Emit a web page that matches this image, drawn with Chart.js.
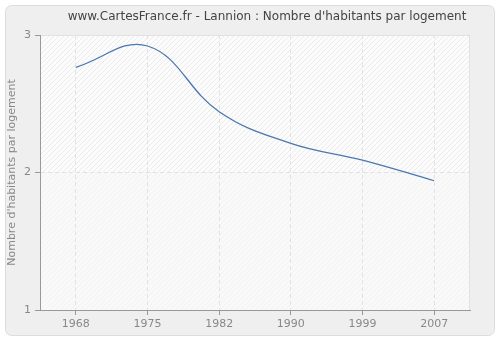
<!DOCTYPE html>
<html>
<head>
<meta charset="utf-8">
<script src="https://cdn.jsdelivr.net/npm/chart.js@4.4.1/dist/chart.umd.min.js"></script>
<style>
  html, body { margin: 0; padding: 0; background: #ffffff; }
  #wrap { width: 500px; height: 340px; }
</style>
</head>
<body>
<div id="wrap"><canvas id="chart" width="500" height="340"></canvas></div>
<script>
// Data
const years = ['1968', '1975', '1982', '1990', '1999', '2007'];
const habitantsParLogement = [2.765, 2.92, 2.442, 2.212, 2.09, 1.94];
const yTicks = [1, 2, 3];
const titleText = "www.CartesFrance.fr - Lannion : Nombre d'habitants par logement";
const yTitle = "Nombre d'habitants par logement";

const FONT = "'DejaVu Sans', Verdana, sans-serif";

function makeHatch(bg, stroke) {
    const c = document.createElement('canvas');
    c.width = 5; c.height = 5;
    const g = c.getContext('2d');
    g.fillStyle = bg;
    g.fillRect(0, 0, 5, 5);
    g.strokeStyle = stroke;
    g.lineWidth = 1;
    g.beginPath();
    g.moveTo(0, 5); g.lineTo(5, 0);
    g.moveTo(-2.5, 2.5); g.lineTo(2.5, -2.5);
    g.moveTo(2.5, 7.5); g.lineTo(7.5, 2.5);
    g.stroke();
    return c;
}

// Frame, plot background and title
const backdrop = {
    id: 'backdrop',
    beforeDraw(chart) {
        const ctx = chart.ctx;
        const a = chart.chartArea;
        const y = chart.scales.y;
        ctx.save();
        // outer frame
        ctx.fillStyle = '#efefef';
        ctx.strokeStyle = '#dcdcdc';
        ctx.lineWidth = 1;
        ctx.beginPath();
        ctx.roundRect(5.5, 5.5, 489, 330, 6);
        ctx.fill();
        ctx.stroke();

        const mid = y.getPixelForValue(2);
        ctx.fillStyle = ctx.createPattern(makeHatch('#fcfcfc', '#ebebeb'), 'repeat');
        ctx.fillRect(a.left, a.top, a.right - a.left, mid - a.top);
        ctx.fillStyle = ctx.createPattern(makeHatch('#f9f9f9', '#f2f2f2'), 'repeat');
        ctx.fillRect(a.left, mid, a.right - a.left, a.bottom - mid);

        // plot border right/top
        ctx.strokeStyle = '#e2e2e2';
        ctx.beginPath();
        ctx.moveTo(a.left, a.top + 0.5);
        ctx.lineTo(a.right - 0.5, a.top + 0.5);
        ctx.lineTo(a.right - 0.5, a.bottom);
        ctx.stroke();

        ctx.fillStyle = '#444444';
        ctx.font = '12px ' + FONT;
        ctx.textAlign = 'center';
        ctx.textBaseline = 'middle';
        ctx.fillText(titleText, 267, 17);
        ctx.restore();
    }
};

new Chart(document.getElementById('chart'), {
    type: 'line',
    data: {
        labels: years,
        datasets: [{
            data: habitantsParLogement,
            borderColor: '#4a78b0',
            borderWidth: 1.3,
            tension: 0.4,
            pointRadius: 0,
            fill: false,
        }],
    },
    options: {
        animation: false,
        responsive: false,
        layout: { padding: { left: 0, top: 35, right: 30, bottom: 0 } },
        plugins: {
            legend: { display: false },
            tooltip: { enabled: false },
        },
        scales: {
            x: {
                offset: true,
                afterFit: s => { s.height = 30; },
                grid: {
                    offset: false,
                    color: '#e2e2e2',
                    tickColor: '#999999',
                    tickLength: 5,
                    tickBorderDash: [],
                },
                border: { color: '#999999', width: 1, dash: [4, 3] },
                ticks: {
                    color: '#888888',
                    padding: 3,
                    font: { family: FONT, size: 11 },
                },
            },
            y: {
                min: 1,
                max: 3,
                afterFit: s => { s.width = 40; },
                afterBuildTicks: s => { s.ticks = yTicks.map(v => ({ value: v })); },
                grid: {
                    color: '#e2e2e2',
                    tickColor: '#999999',
                    tickLength: 5,
                    tickBorderDash: [],
                },
                border: { color: '#999999', width: 1, dash: [4, 3] },
                ticks: {
                    color: '#888888',
                    padding: 4,
                    font: { family: FONT, size: 11 },
                },
                title: {
                    display: true,
                    text: yTitle,
                    color: '#888888',
                    padding: { top: 6, bottom: 0 },
                    font: { family: FONT, size: 11 },
                },
            },
        },
    },
    plugins: [backdrop],
});
</script>
</body>
</html>
